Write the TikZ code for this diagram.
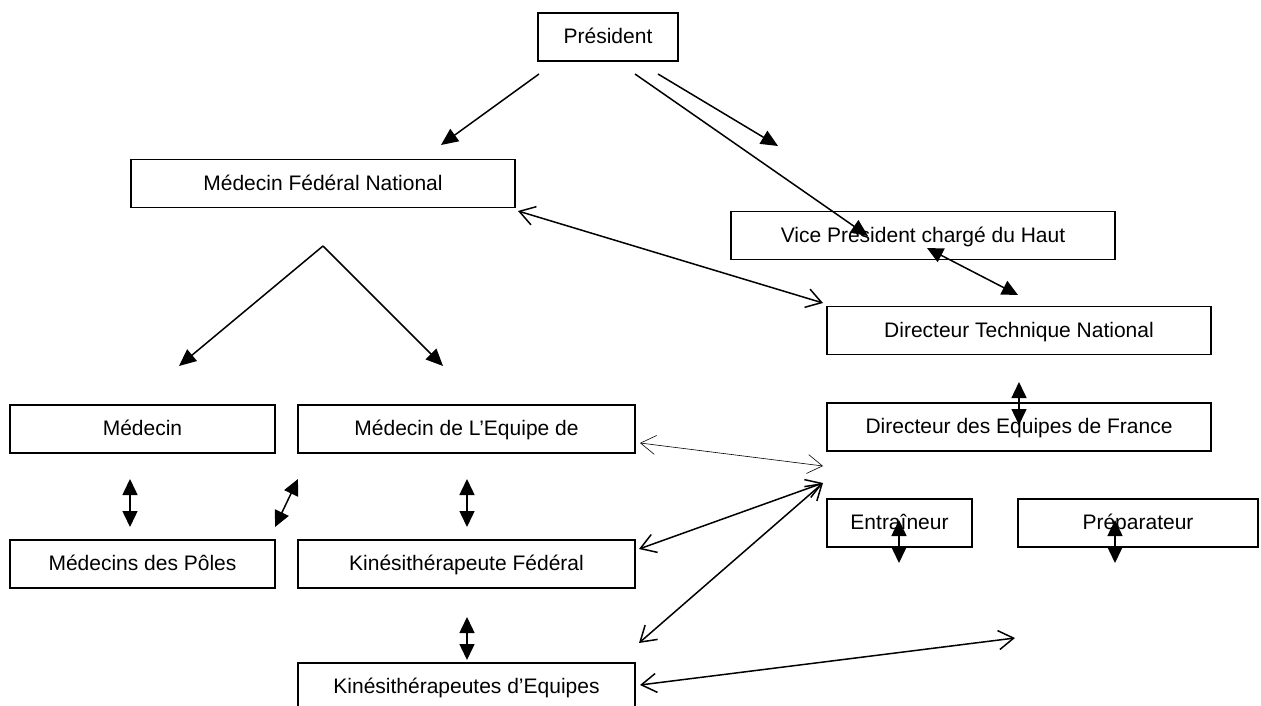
\documentclass[tikz,border=0pt]{standalone}
\usepackage{fontspec}
\setmainfont{Liberation Sans}
\usetikzlibrary{arrows.meta}

\begin{document}
\begin{tikzpicture}[x=1pt,y=-1pt,
  box/.style={draw,line width=1.6pt,minimum height=48pt,inner sep=0pt,
    text height=17pt,text depth=4pt,font=\fontsize{21}{25}\selectfont},
  down arrow/.style={line width=1.5pt,-{Triangle[length=17pt,width=15pt]}},
  twin arrow/.style={line width=1.5pt,
    {Triangle[length=16pt,width=15pt]}-{Triangle[length=16pt,width=15pt]}},
  open twin/.style={line width=1.5pt,
    {Straight Barb[length=15pt,width=19pt]}-{Straight Barb[length=15pt,width=19pt]}},
  thin twin/.style={line width=0.6pt,
    {Straight Barb[length=15pt,width=19pt]}-{Straight Barb[length=15pt,width=19pt]}}]
\useasboundingbox (0,0) rectangle (1261,706);

\node[box,minimum width=140pt] (pres) at (608,37) {Président};
\node[box,minimum width=384pt] (mfn) at (323,183.5) {Médecin Fédéral National};
\node[box,minimum width=384pt] (vp) at (923,235.5) {Vice Président chargé du Haut};
\node[box,minimum width=384pt] (dtn) at (1019,330.5) {Directeur Technique National};
\node[box,minimum width=384pt] (def) at (1019,427) {Directeur des Equipes de France};
\node[box,minimum width=265pt] (med) at (142.5,429) {Médecin};
\node[box,minimum width=337pt] (mde) at (466.5,429) {Médecin de L’Equipe de};
\node[box,minimum width=265pt] (mpo) at (142.5,564) {Médecins des Pôles};
\node[box,minimum width=337pt] (kif) at (466.5,564) {Kinésithérapeute Fédéral};
\node[box,minimum width=337pt] (kie) at (466.5,687) {Kinésithérapeutes d’Equipes};
\node[box,minimum width=145pt] (ent) at (899.5,523) {Entraîneur};
\node[box,minimum width=240pt] (prep) at (1138,523) {Préparateur};

\coordinate (apex) at (323,246);
\coordinate (hub) at (823,483);
\coordinate (far) at (1015,638);

\draw[down arrow] (539,74) -- (441,145);
\draw[down arrow] (635,74) -- (868,236);
\draw[down arrow] (658,74) -- (778,146);
\draw[open twin] (518,211) -- (823,303);
\draw[twin arrow] (927,248) -- (1018,295);
\draw[down arrow] (apex) -- (179,366);
\draw[down arrow] (apex) -- (443,366);
\draw[twin arrow] (1019,382) -- (1019,425);
\draw[twin arrow] (130,479) -- (130,527);
\draw[twin arrow] (298,479) -- (275,527);
\draw[twin arrow] (467,479) -- (467,527);
\draw[twin arrow] (467,617) -- (467,660);
\draw[thin twin] (640,443) -- (823,466);
\draw[open twin] (639,549) -- (hub);
\draw[open twin] (639,643) -- (hub);
\draw[open twin] (640,685) -- (far);
\draw[twin arrow] (899,520) -- (899,563);
\draw[twin arrow] (1115,520) -- (1115,563);
\end{tikzpicture}
\end{document}
